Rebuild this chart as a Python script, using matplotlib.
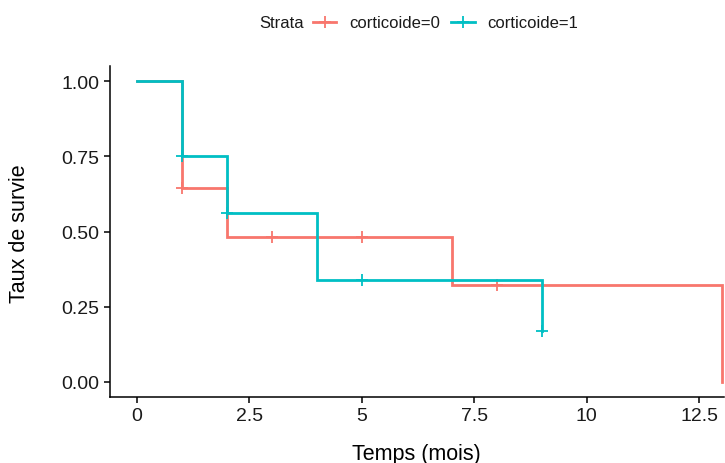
import matplotlib
matplotlib.use("Agg")
import matplotlib.pyplot as plt
from matplotlib.lines import Line2D

plt.rcParams['font.family'] = ['Liberation Sans', 'DejaVu Sans']

# Data (Kaplan-Meier estimates)
strata = ["corticoide=0", "corticoide=1"]
colors = ["#F8766D", "#00BFC4"]

t0 = [0, 1, 2, 7, 13]
s0 = [1.0, 0.643, 0.482, 0.321, 0.0]
cens_t0 = [1, 3, 5, 8]
cens_s0 = [0.643, 0.482, 0.482, 0.321]

t1 = [0, 1, 2, 4, 9]
s1 = [1.0, 0.75, 0.5625, 0.3375, 0.169]
cens_t1 = [1, 2, 5, 9]
cens_s1 = [0.75, 0.5625, 0.3375, 0.169]

xticks = [0, 2.5, 5, 7.5, 10, 12.5]
xticklabels = ["0", "2.5", "5", "7.5", "10", "12.5"]
yticks = [0.0, 0.25, 0.5, 0.75, 1.0]
yticklabels = ["0.00", "0.25", "0.50", "0.75", "1.00"]

fig = plt.figure(figsize=(7.25, 4.64), dpi=100)
ax = fig.add_axes([110/725, (464-398)/464, (724-110)/725, (398-67)/464])

series = [(t0, s0, cens_t0, cens_s0), (t1, s1, cens_t1, cens_s1)]
for (t, s, ct, cs), c in zip(series, colors):
    ax.step(t, s, where='post', color=c, lw=2.0, solid_joinstyle='miter')
    ax.plot(ct, cs, linestyle='none', marker='+', color=c, markersize=9, markeredgewidth=1.3)

ax.set_xlim(-0.6, 13.05)
ax.set_ylim(-0.05, 1.05)
ax.set_xticks(xticks)
ax.set_xticklabels(xticklabels)
ax.set_yticks(yticks)
ax.set_yticklabels(yticklabels)

for sp in ['top', 'right']:
    ax.spines[sp].set_visible(False)
for sp in ['left', 'bottom']:
    ax.spines[sp].set_linewidth(1.1)
    ax.spines[sp].set_color('black')

ax.tick_params(axis='both', length=4.5, width=1.1, color='black',
               labelsize=14, labelcolor='#1a1a1a', pad=3)

fig.text(416/725, 1 - 455/464, "Temps (mois)", fontsize=15.5, color='black',
         ha='center', va='center')
fig.text(20/725, 1 - 234/464, "Taux de survie", fontsize=15.5, color='black',
         ha='center', va='center', rotation=90)

# Legend at top
fig.text(259/725, 1 - 24/464, "Strata", fontsize=12, color='#1a1a1a', ha='left', va='center')
handles = [Line2D([0], [0], color=c, lw=2.0, marker='+', markersize=9, markeredgewidth=1.3)
           for c in colors]
leg = fig.legend(handles, strata, loc='center left', bbox_to_anchor=(313/725, 1 - 24/464),
                 ncol=2, frameon=False, fontsize=12, handlelength=1.4,
                 handletextpad=0.75, columnspacing=0.7, borderaxespad=0, borderpad=0)
for txt in leg.get_texts():
    txt.set_color('#1a1a1a')

fig.savefig("out.png", dpi=100)
